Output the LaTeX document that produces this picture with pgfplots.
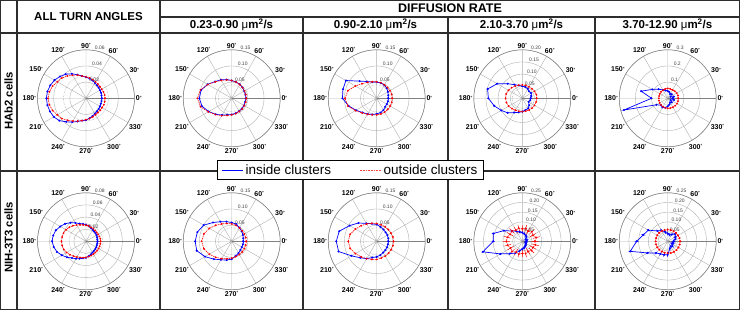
\documentclass[border=0pt]{standalone}
\usepackage{fontspec}
\setmainfont{Liberation Sans}
\setsansfont{Liberation Sans}
\usepackage{pgfplots}
\pgfplotsset{compat=1.18}
\usepgfplotslibrary{polar}
\definecolor{gridc}{RGB}{175,175,175}
\definecolor{linec}{RGB}{45,45,45}
\newcommand{\dg}{{\raisebox{1.6pt}{\fontsize{4.5}{4.5}\selectfont °}}}
\pgfplotsset{
 pol/.style={scale only axis, width=97pt, height=97pt, anchor=center,
   xmin=0, xmax=360, ymin=0, scaled y ticks=false,
   xtick={0,30,...,330},
   xticklabels={0\dg,30\dg,60\dg,90\dg,120\dg,150\dg,180\dg,210\dg,240\dg,270\dg,300\dg,330\dg},
   yticklabels={}, major tick length=0pt,
   xmajorgrids=true, ymajorgrids=true,
   major grid style={gridc, line width=0.4pt},
   axis line style={gray, line width=0.5pt},
   ticklabel style={font=\bfseries\fontsize{7}{8}\selectfont, inner sep=1.2pt},
   clip=false,
   extra y tick labels={},
   extra y tick style={major grid style={densely dotted, gray, line width=0.4pt}}},
 bl/.style={blue, line width=0.7pt, mark=*, mark size=0.65pt, mark options={solid}},
 rd/.style={red, line width=0.6pt, dash pattern=on 1.5pt off 0.8pt, mark=*, mark size=0.6pt, mark options={solid}},
 eb/.style={forget plot, #1, solid, line width=0.45pt, no markers, unbounded coords=jump},
}
\newcommand{\rl}[2]{\node[font=\fontsize{5}{5}\selectfont, text=black!75, anchor=south west, inner sep=0.3pt] at (axis cs:80,#1) {#2};}
\begin{document}
\begin{tikzpicture}
\useasboundingbox (0,0) rectangle (740pt,310pt);
% table
\draw[linec, line width=1.2pt] (0.6pt,0.6pt) rectangle (739.4pt,309.4pt);
\draw[linec, line width=1.1pt] (17pt,0pt) -- (17pt,310pt);
\draw[linec, line width=1.1pt] (160pt,0pt) -- (160pt,310pt);
\draw[linec, line width=1.1pt] (303pt,0pt) -- (303pt,293pt);
\draw[linec, line width=1.1pt] (448pt,0pt) -- (448pt,293pt);
\draw[linec, line width=1.1pt] (595pt,0pt) -- (595pt,293pt);
\draw[linec, line width=1.1pt] (160pt,293pt) -- (740pt,293pt);
\draw[linec, line width=1.1pt] (0pt,277pt) -- (740pt,277pt);
\draw[linec, line width=1.1pt] (0pt,139pt) -- (740pt,139pt);
\node[font=\bfseries\fontsize{11.5}{13}\selectfont] at (88.5pt,293pt) {ALL TURN ANGLES};
\node[font=\bfseries\fontsize{12.5}{14}\selectfont] at (450pt,301.5pt) {DIFFUSION RATE};
\node[font=\bfseries\fontsize{11.5}{13}\selectfont] at (231.5pt,285pt) {0.23-0.90 {\mdseries μ}m\textsuperscript{2}/s};
\node[font=\bfseries\fontsize{11.5}{13}\selectfont] at (375.5pt,285pt) {0.90-2.10 {\mdseries μ}m\textsuperscript{2}/s};
\node[font=\bfseries\fontsize{11.5}{13}\selectfont] at (521.5pt,285pt) {2.10-3.70 {\mdseries μ}m\textsuperscript{2}/s};
\node[font=\bfseries\fontsize{11.5}{13}\selectfont] at (667.5pt,285pt) {3.70-12.90 {\mdseries μ}m\textsuperscript{2}/s};
\node[font=\bfseries\fontsize{11.3}{13}\selectfont, rotate=90] at (8.5pt,209pt) {HAb2 cells};
\node[font=\bfseries\fontsize{11.3}{13}\selectfont, rotate=90] at (8.5pt,72.5pt) {NIH-3T3 cells};

% ---------- Row 1 ----------
\begin{polaraxis}[pol, at={(86pt,211.7pt)}, ymax=0.06, ytick={0.02,0.04,0.06}, extra y ticks={0.0278}]
\addplot[bl] coordinates {(0,0.0195)(10,0.0195)(20,0.0198)(30,0.0200)(40,0.0205)(50,0.0210)(60,0.0220)(70,0.0235)(80,0.0250)(90,0.0260)(100,0.0280)(110,0.0310)(120,0.0350)(130,0.0390)(140,0.0420)(150,0.0450)(160,0.0470)(170,0.0485)(180,0.0490)(190,0.0485)(200,0.0475)(210,0.0460)(220,0.0430)(230,0.0380)(240,0.0340)(250,0.0305)(260,0.0280)(270,0.0270)(280,0.0250)(290,0.0235)(300,0.0220)(310,0.0210)(320,0.0205)(330,0.0200)(340,0.0195)(350,0.0195)(360,0.0195)};
\addplot[rd] coordinates {(0,0.0235)(10,0.0235)(20,0.0230)(30,0.0225)(40,0.0225)(50,0.0230)(60,0.0235)(70,0.0245)(80,0.0255)(90,0.0265)(100,0.0280)(110,0.0305)(120,0.0330)(130,0.0360)(140,0.0390)(150,0.0410)(160,0.0440)(170,0.0460)(180,0.0470)(190,0.0460)(200,0.0440)(210,0.0410)(220,0.0390)(230,0.0355)(240,0.0325)(250,0.0300)(260,0.0280)(270,0.0265)(280,0.0255)(290,0.0245)(300,0.0235)(310,0.0230)(320,0.0230)(330,0.0230)(340,0.0235)(350,0.0235)(360,0.0235)};
\rl{0.02}{0.02}\rl{0.04}{0.04}\rl{0.06}{0.06}
\end{polaraxis}

\begin{polaraxis}[pol, at={(231.7pt,211.7pt)}, ymax=0.15, ytick={0.05,0.10,0.15}, extra y ticks={0.0417}]
\addplot[bl] coordinates {(0,0.044)(15,0.044)(30,0.045)(45,0.047)(60,0.050)(75,0.052)(90,0.055)(105,0.060)(120,0.066)(135,0.073)(150,0.086)(165,0.098)(180,0.100)(195,0.095)(210,0.082)(225,0.070)(240,0.060)(255,0.053)(270,0.050)(285,0.048)(300,0.046)(315,0.045)(330,0.044)(345,0.043)(360,0.044)};
\addplot[rd] coordinates {(0,0.045)(15,0.045)(30,0.046)(45,0.047)(60,0.049)(75,0.052)(90,0.055)(105,0.059)(120,0.064)(135,0.072)(150,0.085)(165,0.100)(180,0.106)(195,0.100)(210,0.084)(225,0.071)(240,0.062)(255,0.055)(270,0.051)(285,0.049)(300,0.047)(315,0.046)(330,0.045)(345,0.045)(360,0.045)};
\rl{0.05}{0.05}\rl{0.10}{0.10}\rl{0.15}{0.15}
\end{polaraxis}

\begin{polaraxis}[pol, at={(376.7pt,211.7pt)}, ymax=0.15, ytick={0.05,0.10,0.15}, extra y ticks={0.0417},
  legend style={at={(axis description cs:0.228,-0.239)}, anchor=center, legend columns=2,
    font=\fontsize{13.5}{15}\selectfont, draw=black, line width=0.8pt, fill=white,
    inner ysep=1.5pt, inner xsep=4pt,
    /tikz/every even column/.append style={column sep=26pt}}]
\addplot[forget plot, bl] coordinates {(0,0.036)(15,0.037)(30,0.040)(45,0.044)(60,0.047)(75,0.049)(90,0.050)(105,0.052)(120,0.060)(135,0.075)(150,0.110)(165,0.108)(180,0.106)(195,0.090)(210,0.074)(225,0.062)(240,0.056)(255,0.052)(270,0.048)(285,0.046)(300,0.042)(315,0.037)(330,0.036)(345,0.036)(360,0.036)};
\addplot[forget plot, rd] coordinates {(0,0.048)(15,0.048)(30,0.047)(45,0.047)(60,0.048)(75,0.050)(90,0.051)(105,0.053)(120,0.057)(135,0.064)(150,0.076)(165,0.092)(180,0.098)(195,0.092)(210,0.076)(225,0.064)(240,0.057)(255,0.053)(270,0.051)(285,0.050)(300,0.049)(315,0.048)(330,0.048)(345,0.048)(360,0.048)};
\addlegendimage{legend image code/.code={\draw[draw=blue, line width=0.8pt] (0pt,0pt) -- (21.5pt,0pt);}}
\addlegendentry{inside clusters}
\addlegendimage{legend image code/.code={\draw[draw=red!75, line width=0.9pt, dash pattern=on 1pt off 0.6pt] (0pt,0pt) -- (21.5pt,0pt);}}
\addlegendentry{outside clusters}
\rl{0.05}{0.05}\rl{0.10}{0.10}\rl{0.15}{0.15}
\end{polaraxis}

\begin{polaraxis}[pol, at={(522.3pt,211.7pt)}, ymax=0.20, ytick={0.05,0.10,0.15,0.20}, extra y ticks={0.0417}]
\addplot[bl] coordinates {(0,0.035)(15,0.038)(30,0.042)(45,0.040)(60,0.045)(75,0.048)(90,0.050)(105,0.055)(120,0.065)(135,0.085)(150,0.120)(165,0.148)(180,0.140)(195,0.120)(210,0.100)(225,0.085)(240,0.068)(255,0.060)(270,0.055)(285,0.050)(300,0.048)(315,0.040)(330,0.030)(345,0.033)(360,0.035)};
\addplot[rd] coordinates {(0,0.059)(15,0.060)(30,0.058)(45,0.056)(60,0.055)(75,0.055)(90,0.055)(105,0.056)(120,0.058)(135,0.062)(150,0.066)(165,0.069)(180,0.069)(195,0.068)(210,0.065)(225,0.060)(240,0.057)(255,0.055)(270,0.055)(285,0.055)(300,0.056)(315,0.057)(330,0.058)(345,0.059)(360,0.059)};
\rl{0.05}{0.05}\rl{0.10}{0.10}\rl{0.15}{0.15}\rl{0.20}{0.20}
\end{polaraxis}

\begin{polaraxis}[pol, at={(667.7pt,211.7pt)}, ymax=0.3, ytick={0.1,0.2,0.3}, extra y ticks={0.0417}]
\addplot[bl] coordinates {(0,0.030)(15,0.040)(30,0.020)(45,0.035)(60,0.030)(75,0.040)(90,0.045)(105,0.050)(120,0.060)(135,0.080)(150,0.110)(165,0.170)(180,0.100)(195,0.280)(210,0.080)(225,0.060)(240,0.065)(255,0.060)(270,0.050)(285,0.040)(300,0.030)(315,0.035)(330,0.020)(345,0.040)(360,0.030)};
\addplot[rd] coordinates {(0,0.065)(15,0.066)(30,0.064)(45,0.062)(60,0.060)(75,0.060)(90,0.061)(105,0.060)(120,0.058)(135,0.057)(150,0.056)(165,0.055)(180,0.055)(195,0.056)(210,0.057)(225,0.058)(240,0.060)(255,0.061)(270,0.062)(285,0.063)(300,0.064)(315,0.065)(330,0.066)(345,0.066)(360,0.065)};
\rl{0.1}{0.1}\rl{0.2}{0.2}\rl{0.3}{0.3}
\end{polaraxis}

% ---------- Row 2 ----------
\begin{polaraxis}[pol, at={(86pt,68.7pt)}, ymax=0.08, ytick={0.02,0.04,0.06,0.08}, extra y ticks={0.0278}]
\addplot[bl] coordinates {(0,0.0190)(10,0.0190)(20,0.0195)(30,0.0200)(40,0.0205)(50,0.0210)(60,0.0220)(70,0.0235)(80,0.0255)(90,0.0275)(100,0.0290)(110,0.0310)(120,0.0350)(130,0.0400)(140,0.0450)(150,0.0490)(160,0.0530)(170,0.0550)(180,0.0560)(190,0.0540)(200,0.0510)(210,0.0460)(220,0.0410)(230,0.0360)(240,0.0330)(250,0.0305)(260,0.0285)(270,0.0270)(280,0.0250)(290,0.0230)(300,0.0215)(310,0.0205)(320,0.0200)(330,0.0195)(340,0.0190)(350,0.0190)(360,0.0190)};
\addplot[rd] coordinates {(0,0.0240)(10,0.0240)(20,0.0235)(30,0.0230)(40,0.0230)(50,0.0235)(60,0.0240)(70,0.0245)(80,0.0255)(90,0.0265)(100,0.0275)(110,0.0290)(120,0.0310)(130,0.0335)(140,0.0360)(150,0.0380)(160,0.0395)(170,0.0400)(180,0.0405)(190,0.0400)(200,0.0390)(210,0.0370)(220,0.0345)(230,0.0320)(240,0.0300)(250,0.0285)(260,0.0275)(270,0.0265)(280,0.0255)(290,0.0250)(300,0.0245)(310,0.0240)(320,0.0240)(330,0.0240)(340,0.0240)(350,0.0240)(360,0.0240)};
\rl{0.02}{0.02}\rl{0.04}{0.04}\rl{0.06}{0.06}\rl{0.08}{0.08}
\end{polaraxis}

\begin{polaraxis}[pol, at={(231.7pt,68.7pt)}, ymax=0.15, ytick={0.05,0.10,0.15}, extra y ticks={0.0417}]
\addplot[bl] coordinates {(0,0.036)(15,0.037)(30,0.040)(45,0.044)(60,0.048)(75,0.055)(90,0.058)(105,0.063)(120,0.070)(135,0.082)(150,0.100)(165,0.110)(180,0.113)(195,0.112)(210,0.095)(225,0.078)(240,0.066)(255,0.060)(270,0.055)(285,0.047)(300,0.042)(315,0.038)(330,0.036)(345,0.036)(360,0.036)};
\addplot[rd] coordinates {(0,0.045)(15,0.045)(30,0.045)(45,0.046)(60,0.048)(75,0.051)(90,0.054)(105,0.057)(120,0.062)(135,0.070)(150,0.080)(165,0.089)(180,0.093)(195,0.089)(210,0.080)(225,0.070)(240,0.062)(255,0.056)(270,0.052)(285,0.049)(300,0.047)(315,0.046)(330,0.045)(345,0.045)(360,0.045)};
\rl{0.05}{0.05}\rl{0.10}{0.10}\rl{0.15}{0.15}
\end{polaraxis}

\begin{polaraxis}[pol, at={(376.7pt,68.7pt)}, ymax=0.15, ytick={0.05,0.10,0.15}, extra y ticks={0.0417}]
\addplot[bl] coordinates {(0,0.036)(15,0.037)(30,0.038)(45,0.039)(60,0.042)(75,0.046)(90,0.052)(105,0.056)(120,0.064)(135,0.080)(150,0.097)(165,0.120)(180,0.125)(195,0.122)(210,0.090)(225,0.072)(240,0.062)(255,0.052)(270,0.048)(285,0.044)(300,0.040)(315,0.038)(330,0.037)(345,0.036)(360,0.036)};
\addplot[rd] coordinates {(0,0.052)(15,0.052)(30,0.051)(45,0.051)(60,0.052)(75,0.053)(90,0.055)(105,0.058)(120,0.062)(135,0.068)(150,0.076)(165,0.085)(180,0.088)(195,0.085)(210,0.076)(225,0.068)(240,0.062)(255,0.058)(270,0.056)(285,0.054)(300,0.053)(315,0.052)(330,0.052)(345,0.052)(360,0.052)};
\rl{0.05}{0.05}\rl{0.10}{0.10}\rl{0.15}{0.15}
\end{polaraxis}

\begin{polaraxis}[pol, at={(522.3pt,68.7pt)}, ymax=0.25, ytick={0.05,0.10,0.15,0.20,0.25}, extra y ticks={0.0417}]
\addplot[bl] coordinates {(0,0.020)(15,0.025)(30,0.020)(45,0.030)(60,0.035)(75,0.040)(90,0.045)(105,0.050)(120,0.060)(135,0.075)(150,0.110)(165,0.155)(180,0.150)(195,0.210)(210,0.130)(225,0.090)(240,0.070)(255,0.050)(270,0.040)(285,0.035)(300,0.030)(315,0.025)(330,0.020)(345,0.020)(360,0.020)};
\addplot[eb=blue] coordinates {(0,0.012)(0,0.028)(0,nan)(15,0.017)(15,0.033)(15,nan)(30,0.012)(30,0.028)(30,nan)(45,0.022)(45,0.038)(45,nan)(60,0.027)(60,0.043)(60,nan)(75,0.032)(75,0.048)(75,nan)(90,0.037)(90,0.053)(90,nan)(105,0.042)(105,0.058)(105,nan)(120,0.052)(120,0.068)(120,nan)(135,0.067)(135,0.083)(135,nan)(150,0.102)(150,0.118)(150,nan)(165,0.147)(165,0.163)(165,nan)(180,0.142)(180,0.158)(180,nan)(195,0.202)(195,0.218)(195,nan)(210,0.122)(210,0.138)(210,nan)(225,0.082)(225,0.098)(225,nan)(240,0.062)(240,0.078)(240,nan)(255,0.042)(255,0.058)(255,nan)(270,0.032)(270,0.048)(270,nan)(285,0.027)(285,0.043)(285,nan)(300,0.022)(300,0.038)(300,nan)(315,0.017)(315,0.033)(315,nan)(330,0.012)(330,0.028)(330,nan)(345,0.012)(345,0.028)};
\addplot[rd] coordinates {(0,0.065)(15,0.075)(30,0.062)(45,0.070)(60,0.060)(75,0.068)(90,0.064)(105,0.070)(120,0.066)(135,0.075)(150,0.072)(165,0.080)(180,0.082)(195,0.078)(210,0.070)(225,0.074)(240,0.065)(255,0.068)(270,0.063)(285,0.066)(300,0.060)(315,0.067)(330,0.063)(345,0.070)(360,0.065)};
\addplot[eb=red] coordinates {(0,0.047)(0,0.083)(0,nan)(15,0.057)(15,0.093)(15,nan)(30,0.044)(30,0.080)(30,nan)(45,0.052)(45,0.088)(45,nan)(60,0.042)(60,0.078)(60,nan)(75,0.050)(75,0.086)(75,nan)(90,0.046)(90,0.082)(90,nan)(105,0.052)(105,0.088)(105,nan)(120,0.048)(120,0.084)(120,nan)(135,0.057)(135,0.093)(135,nan)(150,0.054)(150,0.090)(150,nan)(165,0.062)(165,0.098)(165,nan)(180,0.064)(180,0.100)(180,nan)(195,0.060)(195,0.096)(195,nan)(210,0.052)(210,0.088)(210,nan)(225,0.056)(225,0.092)(225,nan)(240,0.047)(240,0.083)(240,nan)(255,0.050)(255,0.086)(255,nan)(270,0.045)(270,0.081)(270,nan)(285,0.048)(285,0.084)(285,nan)(300,0.042)(300,0.078)(300,nan)(315,0.049)(315,0.085)(315,nan)(330,0.045)(330,0.081)(330,nan)(345,0.052)(345,0.088)};
\rl{0.05}{0.05}\rl{0.10}{0.10}\rl{0.15}{0.15}\rl{0.20}{0.20}\rl{0.25}{0.25}
\end{polaraxis}

\begin{polaraxis}[pol, at={(667.7pt,68.7pt)}, ymax=0.25, ytick={0.05,0.10,0.15,0.20,0.25}, extra y ticks={0.0417}]
\addplot[bl] coordinates {(0,0.030)(15,0.040)(30,0.045)(45,0.055)(60,0.040)(75,0.035)(90,0.040)(105,0.050)(120,0.065)(135,0.075)(150,0.115)(165,0.130)(180,0.160)(195,0.200)(210,0.120)(225,0.085)(240,0.075)(255,0.072)(270,0.070)(285,0.040)(300,0.030)(315,0.035)(330,0.025)(345,0.030)(360,0.030)};
\addplot[eb=blue] coordinates {(0,0.020)(0,0.040)(0,nan)(15,0.030)(15,0.050)(15,nan)(30,0.035)(30,0.055)(30,nan)(45,0.045)(45,0.065)(45,nan)(60,0.030)(60,0.050)(60,nan)(75,0.025)(75,0.045)(75,nan)(90,0.030)(90,0.050)(90,nan)(105,0.040)(105,0.060)(105,nan)(120,0.055)(120,0.075)(120,nan)(135,0.065)(135,0.085)(135,nan)(150,0.105)(150,0.125)(150,nan)(165,0.120)(165,0.140)(165,nan)(180,0.150)(180,0.170)(180,nan)(195,0.190)(195,0.210)(195,nan)(210,0.110)(210,0.130)(210,nan)(225,0.075)(225,0.095)(225,nan)(240,0.065)(240,0.085)(240,nan)(255,0.062)(255,0.082)(255,nan)(270,0.060)(270,0.080)(270,nan)(285,0.030)(285,0.050)(285,nan)(300,0.020)(300,0.040)(300,nan)(315,0.025)(315,0.045)(315,nan)(330,0.015)(330,0.035)(330,nan)(345,0.020)(345,0.040)};
\addplot[rd] coordinates {(0,0.064)(15,0.063)(30,0.061)(45,0.060)(60,0.060)(75,0.060)(90,0.060)(105,0.060)(120,0.061)(135,0.062)(150,0.062)(165,0.062)(180,0.062)(195,0.062)(210,0.062)(225,0.061)(240,0.061)(255,0.061)(270,0.061)(285,0.062)(300,0.063)(315,0.064)(330,0.064)(345,0.064)(360,0.064)};
\addplot[eb=red] coordinates {(0,0.058)(0,0.070)(0,nan)(15,0.057)(15,0.069)(15,nan)(30,0.055)(30,0.067)(30,nan)(45,0.054)(45,0.066)(45,nan)(60,0.054)(60,0.066)(60,nan)(75,0.054)(75,0.066)(75,nan)(90,0.054)(90,0.066)(90,nan)(105,0.054)(105,0.066)(105,nan)(120,0.055)(120,0.067)(120,nan)(135,0.056)(135,0.068)(135,nan)(150,0.056)(150,0.068)(150,nan)(165,0.056)(165,0.068)(165,nan)(180,0.056)(180,0.068)(180,nan)(195,0.056)(195,0.068)(195,nan)(210,0.056)(210,0.068)(210,nan)(225,0.055)(225,0.067)(225,nan)(240,0.055)(240,0.067)(240,nan)(255,0.055)(255,0.067)(255,nan)(270,0.055)(270,0.067)(270,nan)(285,0.056)(285,0.068)(285,nan)(300,0.057)(300,0.069)(300,nan)(315,0.058)(315,0.070)(315,nan)(330,0.058)(330,0.070)(330,nan)(345,0.058)(345,0.070)};
\rl{0.05}{0.05}\rl{0.10}{0.10}\rl{0.15}{0.15}\rl{0.20}{0.20}\rl{0.25}{0.25}
\end{polaraxis}
\end{tikzpicture}
\end{document}
